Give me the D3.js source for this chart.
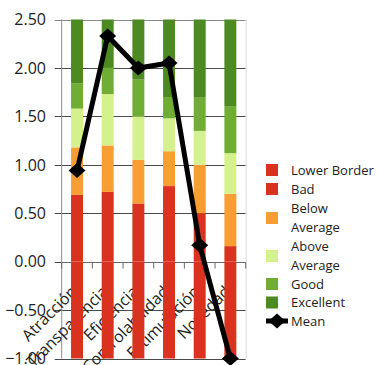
<!DOCTYPE html>
<html>
<head>
<meta charset="utf-8">
<script src="https://cdn.jsdelivr.net/npm/d3@7"></script>
<style>
  html, body { margin: 0; padding: 0; background: #fff; }
  svg { display: block; font-family: "Open Sans", sans-serif; }
</style>
</head>
<body>
<svg id="chart" width="377" height="365"></svg>
<script>
// UEQ scales and benchmark intervals (stacked segment sizes)
const categories = ["Atracción", "Transparencia", "Eficiencia", "Controlabilidad", "Estimulación", "Novedad"];
const lowerBorder = [-1, -1, -1, -1, -1, -1];
const bad         = [0.69, 0.72, 0.60, 0.78, 0.50, 0.16];
const belowAvg    = [0.49, 0.48, 0.45, 0.36, 0.50, 0.54];
const aboveAvg    = [0.40, 0.53, 0.45, 0.34, 0.35, 0.42];
const good        = [0.26, 0.27, 0.38, 0.22, 0.35, 0.48];
const excellent   = [0.66, 0.50, 0.62, 0.80, 0.80, 0.90];
const meanValues  = [0.94, 2.33, 2.00, 2.05, 0.17, -1.00];
const yTicks      = [-1, -0.5, 0, 0.5, 1, 1.5, 2, 2.5];

const seriesKeys   = ["lowerBorder", "bad", "belowAvg", "aboveAvg", "good", "excellent"];
const seriesNames  = ["Lower Border", "Bad", "Below Average", "Above Average", "Good", "Excellent"];
const seriesColors = ["#d9321f", "#d9321f", "#f99d35", "#d5f18e", "#70ad35", "#4d8a22"];

const rows = categories.map((c, i) => ({
  cat: c,
  lowerBorder: lowerBorder[i], bad: bad[i], belowAvg: belowAvg[i],
  aboveAvg: aboveAvg[i], good: good[i], excellent: excellent[i]
}));

const svg = d3.select("#chart");
const plotLeft = 61.7, plotRight = 245.7, plotTop = 19.5, plotBottom = 358.5;

const x = d3.scaleBand().domain(categories).range([plotLeft, plotRight])
  .paddingInner(0.61).paddingOuter(0.305);
const y = d3.scaleLinear().domain([-1, 2.5]).range([plotBottom, plotTop]);
const cx = c => x(c) + x.bandwidth() / 2;

// horizontal gridlines with left tick marks
svg.append("g").selectAll("line").data(yTicks).join("line")
  .attr("x1", plotLeft - 7).attr("x2", plotRight)
  .attr("y1", d => Math.round(y(d)) + 0.5).attr("y2", d => Math.round(y(d)) + 0.5)
  .attr("stroke", d => d === 2.5 ? "#8a8a8a" : "#4a4a4a").attr("stroke-width", 1);

// frame: left axis and faint right border
svg.append("line").attr("x1", plotLeft).attr("x2", plotLeft).attr("y1", plotTop).attr("y2", plotBottom)
  .attr("stroke", "#8a8a8a");
svg.append("line").attr("x1", plotRight + 0.5).attr("x2", plotRight + 0.5).attr("y1", plotTop).attr("y2", plotBottom)
  .attr("stroke", "#d9d9d9");

// y tick labels
svg.append("g").selectAll("text").data(yTicks).join("text")
  .attr("x", 46).attr("y", d => y(d)).attr("dy", "0.36em")
  .attr("text-anchor", "end").attr("font-size", 16).attr("fill", "#222")
  .text(d => d3.format(".2f")(d));

// category labels, rotated, sitting beneath the bars
svg.append("g").selectAll("text").data(categories).join("text")
  .attr("transform", d => `translate(${cx(d) + 1},${y(0) + 31}) rotate(-45)`)
  .attr("text-anchor", "end").attr("font-size", 16).attr("fill", "#222")
  .text(d => d);

// zero axis with category boundary ticks
const zy = Math.round(y(0)) + 0.5;
svg.append("line").attr("x1", plotLeft).attr("x2", plotRight).attr("y1", zy).attr("y2", zy)
  .attr("stroke", "#6a6a6a");
const bounds = d3.range(categories.length + 1).map(i => plotLeft + i * x.step());
svg.append("g").selectAll("line").data(bounds).join("line")
  .attr("x1", d => d).attr("x2", d => d).attr("y1", zy).attr("y2", zy + 6)
  .attr("stroke", "#6a6a6a");

// stacked benchmark bars
const stacked = d3.stack().keys(seriesKeys).offset(d3.stackOffsetDiverging)(rows);
svg.append("g").selectAll("g").data(stacked).join("g")
  .attr("fill", (d, i) => seriesColors[i])
  .selectAll("rect").data(d => d).join("rect")
  .attr("x", d => x(d.data.cat)).attr("width", x.bandwidth())
  .attr("y", d => y(Math.max(d[0], d[1])))
  .attr("height", d => Math.abs(y(d[0]) - y(d[1])));

// mean line with diamond markers
const diamond = (px, py) => `M${px - 8.5},${py}L${px},${py - 7.5}L${px + 8.5},${py}L${px},${py + 7.5}Z`;
const line = d3.line().x((d, i) => cx(categories[i])).y(d => y(d));
svg.append("path").datum(meanValues).attr("d", line)
  .attr("fill", "none").attr("stroke", "#000").attr("stroke-width", 5)
  .attr("stroke-linejoin", "round");
svg.append("g").selectAll("path").data(meanValues).join("path")
  .attr("d", (d, i) => diamond(cx(categories[i]), y(d))).attr("fill", "#000");

// legend
const legend = svg.append("g").attr("font-size", 13).attr("fill", "#222");
const legendRows = [
  { lines: ["Lower Border"], cy: 170 },
  { lines: ["Bad"], cy: 189 },
  { lines: ["Below", "Average"], cy: 218 },
  { lines: ["Above", "Average"], cy: 256 },
  { lines: ["Good"], cy: 284 },
  { lines: ["Excellent"], cy: 302.5 }
];
legendRows.forEach((r, i) => {
  legend.append("rect").attr("x", 266).attr("y", r.cy - 6).attr("width", 12).attr("height", 12)
    .attr("fill", seriesColors[i]);
  r.lines.forEach((t, k) => {
    legend.append("text").attr("x", 291)
      .attr("y", r.cy + (k - (r.lines.length - 1) / 2) * 19).attr("dy", "0.35em")
      .text(t);
  });
});
legend.append("line").attr("x1", 266).attr("x2", 288).attr("y1", 321).attr("y2", 321)
  .attr("stroke", "#000").attr("stroke-width", 5);
legend.append("path").attr("d", diamond(277, 321)).attr("fill", "#000");
legend.append("text").attr("x", 291).attr("y", 321).attr("dy", "0.35em").text("Mean");
</script>
</body>
</html>
